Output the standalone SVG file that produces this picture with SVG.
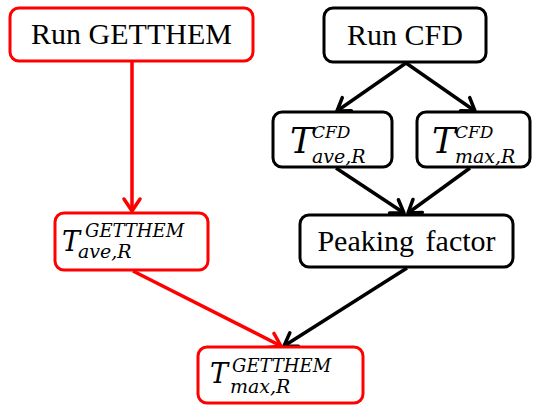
<svg xmlns="http://www.w3.org/2000/svg" width="537" height="405" viewBox="0 0 537 405">
<style>
.box{fill:#fff;stroke-width:3}
.red{stroke:#ff0000}
.blk{stroke:#000}
.lbl{font-family:"Liberation Serif","Times New Roman",serif;font-size:30px;fill:#000}
.m{font-family:"DejaVu Serif",serif;font-style:italic;fill:#000}
.edge{fill:none;stroke-width:3.5}
</style>
<defs>
<marker id="ar" markerUnits="userSpaceOnUse" markerWidth="30" markerHeight="30" refX="0" refY="0" viewBox="-15 -15 30 30" orient="auto" overflow="visible">
<path d="M-12,-8 L0,0 L-12,8" fill="none" stroke="#ff0000" stroke-width="3.5" stroke-linecap="round" stroke-linejoin="round"/>
</marker>
<marker id="ab" markerUnits="userSpaceOnUse" markerWidth="30" markerHeight="30" refX="0" refY="0" viewBox="-15 -15 30 30" orient="auto" overflow="visible">
<path d="M-12,-8 L0,0 L-12,8" fill="none" stroke="#000" stroke-width="3.5" stroke-linecap="round" stroke-linejoin="round"/>
</marker>
</defs>
<g id="connectors">
<line class="edge red" x1="132" y1="62" x2="132" y2="211" marker-end="url(#ar)"/>
<line class="edge blk" x1="406" y1="63" x2="337" y2="111" marker-end="url(#ab)"/>
<line class="edge blk" x1="406" y1="63" x2="475" y2="111" marker-end="url(#ab)"/>
<line class="edge blk" x1="336" y1="168" x2="404" y2="213" marker-end="url(#ab)"/>
<line class="edge blk" x1="470" y1="168" x2="408" y2="213" marker-end="url(#ab)"/>
<line class="edge blk" x1="407" y1="268" x2="284" y2="346" marker-end="url(#ab)"/>
<line class="edge red" x1="133" y1="271" x2="281" y2="346" marker-end="url(#ar)"/>
</g>
<g id="run-getthem">
<rect class="box red" x="10" y="8" width="243" height="53" rx="9"/>
<text class="lbl" x="131.5" y="44" text-anchor="middle">Run GETTHEM</text>
</g>
<g id="run-cfd">
<rect class="box blk" x="324" y="8" width="162" height="54" rx="9"/>
<text class="lbl" x="405" y="45" text-anchor="middle">Run CFD</text>
</g>
<g id="t-cfd-ave">
<rect class="box blk" x="273" y="112" width="119" height="55" rx="9"/>
<text class="m" x="290" y="153" font-size="35">T</text>
<text class="m" x="312" y="138" font-size="17">CFD</text>
<text class="m" x="312" y="163" font-size="19">ave,R</text>
</g>
<g id="t-cfd-max">
<rect class="box blk" x="417" y="112" width="113" height="55" rx="9"/>
<text class="m" x="432" y="153" font-size="35">T</text>
<text class="m" x="455" y="138" font-size="17">CFD</text>
<text class="m" x="455" y="163" font-size="19">max,R</text>
</g>
<g id="t-getthem-ave">
<rect class="box red" x="55" y="213" width="153" height="57" rx="9"/>
<text class="m" x="62" y="251" font-size="27">T</text>
<text class="m" x="85" y="237" font-size="18">GETTHEM</text>
<text class="m" x="78" y="258" font-size="19">ave,R</text>
</g>
<g id="peaking-factor">
<rect class="box blk" x="300" y="215" width="213" height="52" rx="9"/>
<text class="lbl" x="406.5" y="251" text-anchor="middle" word-spacing="4">Peaking factor</text>
</g>
<g id="t-getthem-max">
<rect class="box red" x="198" y="347" width="165" height="56" rx="9"/>
<text class="m" x="210" y="383" font-size="27">T</text>
<text class="m" x="232" y="372" font-size="18">GETTHEM</text>
<text class="m" x="230" y="393" font-size="19">max,R</text>
</g>
</svg>
